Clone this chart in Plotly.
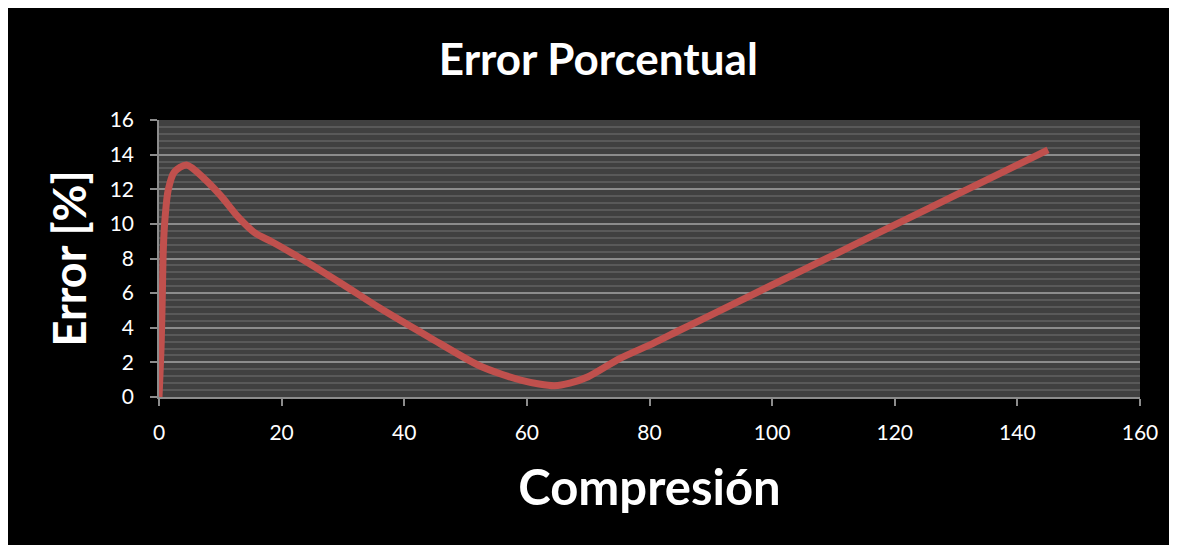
import plotly.graph_objects as go

# Data
compresion = [0, 0.35, 0.55, 0.7, 1.0, 1.5, 2.5, 4.5, 7.5, 10.2, 12.9, 15.7, 18.4, 22.2,
              30, 36, 44, 52, 56, 59, 62, 64.5, 67, 70, 75.2, 80.6, 85, 90, 100, 110,
              120, 130, 145]
error_pct = [0, 3.0, 6.0, 8.5, 10.4, 11.96, 13.0, 13.4, 12.57, 11.57, 10.4, 9.46, 8.97, 8.2,
             6.5, 5.14, 3.47, 1.85, 1.3, 0.98, 0.75, 0.65, 0.8, 1.17, 2.23, 3.1, 3.87, 4.73,
             6.47, 8.2, 9.94, 11.67, 14.27]

x_ticks = [0, 20, 40, 60, 80, 100, 120, 140, 160]
y_ticks = [0, 2, 4, 6, 8, 10, 12, 14, 16]

FONT = "Lato"

fig = go.Figure()
fig.add_trace(go.Scatter(
    x=compresion, y=error_pct, mode="lines",
    line=dict(color="#c0504d", width=7, shape="spline", smoothing=0.8),
    showlegend=False, hoverinfo="skip",
))

fig.update_layout(
    width=1169, height=537,
    margin=dict(l=151, r=37, t=112, b=148),
    paper_bgcolor="black",
    plot_bgcolor="#404040",
    font=dict(family=FONT, color="white"),
    title=dict(text="<b>Error Porcentual</b>", x=0.505, xanchor="center",
               y=1 - 52 / 537, yanchor="middle", yref="container",
               font=dict(family=FONT, size=44, color="white")),
    xaxis=dict(
        range=[0, 160], tickvals=x_ticks, ticktext=[str(v) for v in x_ticks],
        showgrid=False, zeroline=False,
        showline=True, linecolor="#8c8c8c", linewidth=1.5,
        ticks="outside", ticklen=7, tickcolor="#8c8c8c", tickwidth=1.5,
        ticklabelstandoff=9,
        tickfont=dict(family=FONT, size=21, color="white"),
        title=dict(text="<b>Compresión</b>", font=dict(family=FONT, size=49, color="white"),
                   standoff=28),
    ),
    yaxis=dict(
        range=[0, 16], tickvals=y_ticks, ticktext=[str(v) for v in y_ticks],
        showgrid=True, gridcolor="#8c8c8c", gridwidth=1.5,
        minor=dict(dtick=0.4, showgrid=True, gridcolor="#595959", gridwidth=1.5, ticks=""),
        zeroline=False,
        showline=True, linecolor="#8c8c8c", linewidth=1.5,
        ticks="outside", ticklen=7, tickcolor="#8c8c8c", tickwidth=1.5,
        ticklabelstandoff=12,
        tickfont=dict(family=FONT, size=21, color="white"),
        title=dict(text="<b>Error [%]</b>", font=dict(family=FONT, size=45, color="white"),
                   standoff=9),
    ),
)

fig.write_html("out.html", post_script="document.body.style.overflow='hidden';")
